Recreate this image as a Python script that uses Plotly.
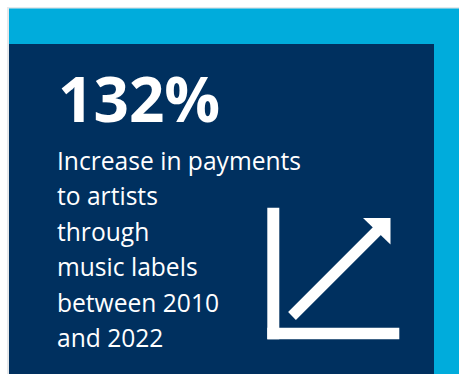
import plotly.graph_objects as go

# Headline figure and supporting copy
headline_value = [132]
headline_unit = ["%"]
description_lines = ["Increase in payments", "to artists", "through", "music labels"]
period_years = [2010, 2022]

NAVY = "#00305F"
SKY = "#00ACDC"
W, H = 459, 374

fig = go.Figure()

shapes = [
    # soft shadow behind the card
    dict(type="rect", x0=7, y0=7, x1=W + 2, y1=H + 2, fillcolor="#E6E8EA", line_width=0, layer="below"),
    # sky-blue frame
    dict(type="rect", x0=9, y0=8.5, x1=W + 2, y1=H + 2, fillcolor=SKY, line_width=0, layer="below"),
    # navy panel
    dict(type="rect", x0=9, y0=44, x1=434, y1=H + 2, fillcolor=NAVY, line_width=0, layer="below"),
    # growth icon: axes
    dict(type="rect", x0=267.3, y0=207.7, x1=279.3, y1=339.3, fillcolor="white", line_width=0),
    dict(type="rect", x0=267.3, y0=327.7, x1=399.3, y1=339.3, fillcolor="white", line_width=0),
    # growth icon: arrow shaft and head
    dict(type="line", x0=292, y0=316, x1=379, y1=229, line=dict(color="white", width=11)),
    dict(type="path", path="M 363 218 L 390.5 218 L 390.5 244.5 Z", fillcolor="white", line_width=0),
]

annotations = [
    dict(x=56, y=98, text=f"<b>{headline_value[0]}{headline_unit[0]}</b>",
         font=dict(family="Open Sans", size=62, color="white")),
]

body = description_lines + [f"between {period_years[0]}", f"and {period_years[1]}"]
baseline0, step = 169, 35.4
for i, line in enumerate(body):
    annotations.append(dict(x=55, y=baseline0 + i * step - 8.5, text=line,
                            font=dict(family="Open Sans", size=24.6, color="white")))

for a in annotations:
    a.update(xref="x", yref="y", xanchor="left", yanchor="middle", showarrow=False)

fig.update_layout(
    width=W, height=H,
    margin=dict(l=0, r=0, t=0, b=0),
    paper_bgcolor="white", plot_bgcolor="white",
    xaxis=dict(range=[0, W], visible=False, fixedrange=True),
    yaxis=dict(range=[H, 0], visible=False, fixedrange=True),
    shapes=shapes, annotations=annotations, showlegend=False,
)

fig.write_html("out.html", config={"displayModeBar": False})
